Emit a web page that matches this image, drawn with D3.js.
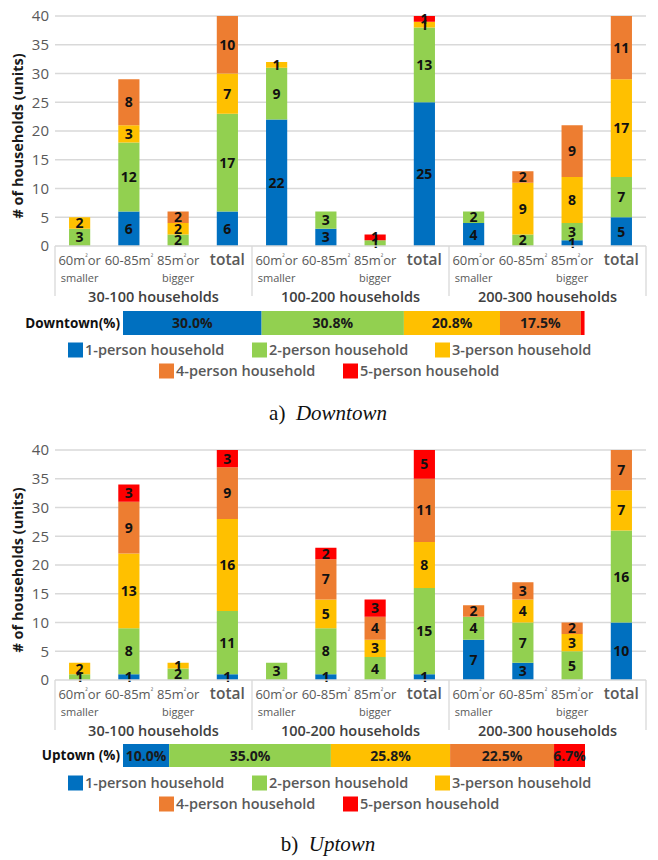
<!DOCTYPE html>
<html>
<head>
<meta charset="utf-8">
<script src="https://cdn.jsdelivr.net/npm/d3@7"></script>
<style>
  body { margin: 0; background: #fff; }
  svg { display: block; font-family: 'Open Sans', 'Noto Sans', sans-serif; }
</style>
</head>
<body>
<svg id="chart" width="658" height="860"></svg>
<script>
// categories
const groups = ['30-100 households', '100-200 households', '200-300 households'];
const sizes = [['60m|or', 'smaller'], ['60-85m|', ''], ['85m|or', 'bigger'], ['total', '']];
const series = ['1-person household', '2-person household', '3-person household', '4-person household', '5-person household'];
const colors = ['#0070C0', '#92D050', '#FFC000', '#ED7D31', '#FF0000'];
const yTicks = [0, 5, 10, 15, 20, 25, 30, 35, 40];

// downtown counts, 12 bars per series (group x size)
const down1 = [0, 6, 0, 6, 22, 3, 0, 25, 4, 0, 1, 5];
const down2 = [3, 12, 2, 17, 9, 3, 1, 13, 2, 2, 3, 7];
const down3 = [2, 3, 2, 7, 1, 0, 0, 1, 0, 9, 8, 17];
const down4 = [0, 8, 2, 10, 0, 0, 0, 0, 0, 2, 9, 11];
const down5 = [0, 0, 0, 0, 0, 0, 1, 1, 0, 0, 0, 0];
const downPct = [30.0, 30.8, 20.8, 17.5, 0.8];

// uptown counts
const up1 = [0, 1, 0, 1, 0, 1, 0, 1, 7, 3, 0, 10];
const up2 = [1, 8, 2, 11, 3, 8, 4, 15, 4, 7, 5, 16];
const up3 = [2, 13, 1, 16, 0, 5, 3, 8, 0, 4, 3, 7];
const up4 = [0, 9, 0, 9, 0, 7, 4, 11, 2, 3, 2, 7];
const up5 = [0, 3, 0, 3, 0, 2, 3, 5, 0, 0, 0, 0];
const upPct = [10.0, 35.0, 25.8, 22.5, 6.7];

const svg = d3.select('#chart');

function drawPanel(cfg) {
    const g = svg.append('g');
    const barIdx = d3.range(12);
    const rows = barIdx.map(function(i) {
        const r = { i: i };
        cfg.values.forEach(function(v, k) { r['s' + k] = v[i]; });
        return r;
    });
    const keys = series.map(function(d, k) { return 's' + k; });
    const stacked = d3.stack().keys(keys)(rows);

    const left = 55, right = 646;
    const x = d3.scaleBand().domain(barIdx).range([left, right])
        .paddingInner(0.57).paddingOuter(0.285);
    const step = x.step();
    const y = d3.scaleLinear().domain([0, 40]).range([cfg.yBottom, cfg.yTop]);

    // gridlines
    g.selectAll('.grid').data(yTicks.slice(1)).enter().append('line')
        .attr('x1', left).attr('x2', right)
        .attr('y1', function(d) { return y(d); })
        .attr('y2', function(d) { return y(d); })
        .attr('stroke', '#d9d9d9').attr('stroke-width', 1.3);

    // y axis labels
    const ax = g.append('g')
        .attr('transform', 'translate(' + (left - 3) + ',0)')
        .call(d3.axisLeft(y).tickValues(yTicks).tickSize(0).tickPadding(3));
    ax.select('.domain').remove();
    ax.selectAll('text')
        .style('font-family', "'Open Sans', sans-serif")
        .style('font-size', '15px')
        .style('fill', '#595959');

    g.append('text')
        .attr('transform', 'translate(18,' + ((cfg.yTop + cfg.yBottom) / 2 + 5) + ') rotate(-90)')
        .attr('text-anchor', 'middle')
        .attr('dy', '0.35em')
        .style('font-size', '14.5px')
        .style('font-weight', 700)
        .style('fill', '#1a1a1a')
        .text('# of households (units)');

    // bars
    stacked.forEach(function(layer, k) {
        g.selectAll('.bar' + k).data(layer).enter().append('rect')
            .attr('x', function(d) { return x(d.data.i); })
            .attr('width', x.bandwidth())
            .attr('y', function(d) { return y(d[1]); })
            .attr('height', function(d) { return y(d[0]) - y(d[1]); })
            .attr('fill', colors[k]);
    });
    stacked.forEach(function(layer, k) {
        g.selectAll('.lab' + k).data(layer.filter(function(d) { return d[1] - d[0] > 0; }))
            .enter().append('text')
            .attr('x', function(d) { return x(d.data.i) + x.bandwidth() / 2; })
            .attr('y', function(d) { return (y(d[0]) + y(d[1])) / 2; })
            .attr('dy', '0.36em')
            .attr('text-anchor', 'middle')
            .style('font-size', '14px')
            .style('font-weight', 700)
            .style('fill', '#111')
            .text(function(d) { return d[1] - d[0]; });
    });

    // category axis
    const base = cfg.yBottom;
    g.append('line').attr('x1', left).attr('x2', right)
        .attr('y1', base).attr('y2', base)
        .attr('stroke', '#d9d9d9').attr('stroke-width', 1.3);
    [0, 4, 8, 12].forEach(function(n) {
        const xx = left + n * step;
        g.append('line').attr('x1', xx).attr('x2', xx)
            .attr('y1', base).attr('y2', base + 50)
            .attr('stroke', '#d9d9d9').attr('stroke-width', 1.3);
    });
    barIdx.forEach(function(i) {
        const s = sizes[i % 4];
        const cx = x(i) + x.bandwidth() / 2;
        const isTotal = (i % 4) === 3;
        const t = g.append('text')
            .attr('x', cx).attr('y', base + 19)
            .attr('text-anchor', 'middle')
            .style('font-size', isTotal ? '15.5px' : '13px')
            .style('font-weight', isTotal ? 600 : 400)
            .style('fill', '#595959');
        // '|' marks where the small squared sign goes
        const parts = s[0].split('|');
        t.append('tspan').text(parts[0]);
        if (parts.length > 1) {
            t.append('tspan').attr('dy', -5).style('font-size', '7px').text('\u00b2');
            t.append('tspan').attr('dy', 5).text(parts[1]);
        }
        if (s[1]) {
            g.append('text')
                .attr('x', cx).attr('y', base + 36)
                .attr('text-anchor', 'middle')
                .style('font-size', '11px')
                .style('fill', '#595959')
                .text(s[1]);
        }
    });
    groups.forEach(function(name, j) {
        g.append('text')
            .attr('x', left + (j * 4 + 2) * step)
            .attr('y', base + 56)
            .attr('text-anchor', 'middle')
            .style('font-size', '14.5px')
            .style('font-weight', 600)
            .style('fill', '#404040')
            .text(name);
    });

    // percentage bar
    const px = d3.scaleLinear().domain([0, 100]).range([123, 585]);
    let acc = 0;
    const segs = cfg.pct.map(function(p, k) {
        const s = { k: k, v: p, x0: acc, x1: acc + p };
        acc += p;
        return s;
    });
    const pbar = g.append('g');
    pbar.selectAll('rect').data(segs).enter().append('rect')
        .attr('x', function(d) { return px(d.x0); })
        .attr('width', function(d) { return px(d.x1) - px(d.x0); })
        .attr('y', cfg.pctY).attr('height', cfg.pctH)
        .attr('fill', function(d) { return colors[d.k]; });
    pbar.selectAll('text').data(segs.filter(function(d) { return d.v >= 5; })).enter().append('text')
        .attr('x', function(d) { return (px(d.x0) + px(d.x1)) / 2; })
        .attr('y', cfg.pctY + cfg.pctH / 2)
        .attr('dy', '0.36em')
        .attr('text-anchor', 'middle')
        .style('font-size', '14px')
        .style('font-weight', 700)
        .style('fill', '#1a1a1a')
        .text(function(d) { return d.v.toFixed(1) + '%'; });
    g.append('text')
        .attr('x', 120).attr('y', cfg.pctY + cfg.pctH / 2)
        .attr('dy', '0.36em')
        .attr('text-anchor', 'end')
        .style('font-size', '13.5px')
        .style('font-weight', 700)
        .style('fill', '#111')
        .text(cfg.pctLabel);

    // legend
    const legPos = [[68, cfg.leg1], [252, cfg.leg1], [435, cfg.leg1], [159, cfg.leg2], [343, cfg.leg2]];
    series.forEach(function(name, k) {
        const lx = legPos[k][0], ly = legPos[k][1];
        g.append('rect').attr('x', lx).attr('y', ly - 7.5)
            .attr('width', 15).attr('height', 15).attr('fill', colors[k]);
        g.append('text').attr('x', lx + 17).attr('y', ly)
            .attr('dy', '0.36em')
            .style('font-size', '14.5px')
            .style('font-weight', 600)
            .style('fill', '#595959')
            .text(name);
    });

    // caption
    const cap = g.append('text')
        .attr('x', 328).attr('y', cfg.capY)
        .attr('dy', '0.36em')
        .attr('text-anchor', 'middle')
        .style('font-family', "'Liberation Serif', 'DejaVu Serif', serif")
        .style('font-size', '21px')
        .style('fill', '#111');
    cap.append('tspan').text(cfg.capPrefix + '\u00a0\u00a0');
    cap.append('tspan').style('font-style', 'italic').text(cfg.capName);
}

drawPanel({
    values: [down1, down2, down3, down4, down5],
    pct: downPct, pctLabel: 'Downtown(%)',
    yTop: 16, yBottom: 246, pctY: 311, pctH: 24,
    leg1: 350, leg2: 371, capY: 412,
    capPrefix: 'a)', capName: 'Downtown'
});
drawPanel({
    values: [up1, up2, up3, up4, up5],
    pct: upPct, pctLabel: 'Uptown (%)',
    yTop: 450, yBottom: 680, pctY: 744, pctH: 23,
    leg1: 783, leg2: 804, capY: 843,
    capPrefix: 'b)', capName: 'Uptown'
});
</script>
</body>
</html>
